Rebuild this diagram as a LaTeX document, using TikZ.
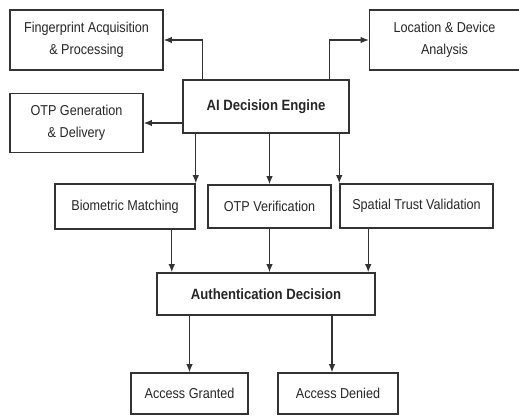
\documentclass[tikz,border=0pt]{standalone}
\usepackage{fontspec}
\setmainfont{Liberation Sans}[FakeStretch=0.88]
\usepackage{tikz}
\usetikzlibrary{arrows.meta}
\definecolor{edge}{HTML}{333333}
\definecolor{ink}{HTML}{262626}
\tikzset{
  block/.style={draw=edge, line width=1.1pt, rectangle, inner sep=0pt, align=center, text=ink,
    font=\fontsize{10.2}{15.5}\selectfont},
  hub/.style={block, font=\bfseries\fontsize{10.6}{12}\selectfont},
  arrow/.style={-{Latex[length=2mm,width=1.6mm]}, draw=edge, line width=0.8pt}
}

\begin{document}
\begin{tikzpicture}[x=0.025cm,y=-0.025cm]
  \useasboundingbox (0,0) rectangle (519,415);
  % top row
  \node[block, minimum width=3.825cm, minimum height=1.5cm] (finger) at (86.5,40) {Fingerprint Acquisition\\\& Processing};
  \node[block, minimum width=3.75cm, minimum height=1.5cm] (location) at (444.5,40) {Location \& Device\\Analysis};
  \node[hub, minimum width=4.15cm, minimum height=1.325cm] (engine) at (266,106.5) {AI Decision Engine};
  \node[block, minimum width=3.325cm, minimum height=1.475cm] (otpgen) at (76.5,123) {OTP Generation\\\& Delivery};

  % checks
  \node[block, minimum width=3.5cm, minimum height=1.125cm] (biometric) at (125,206.5) {Biometric Matching};
  \node[block, minimum width=3.075cm, minimum height=1.075cm] (otpcheck) at (269.5,206.5) {OTP Verification};
  \node[block, minimum width=3.825cm, minimum height=1.1cm] (spatial) at (416.5,206) {Spatial Trust Validation};

  % decision
  \node[hub, minimum width=5.45cm, minimum height=1.05cm] (auth) at (266,294) {Authentication Decision};
  \node[block, minimum width=2.925cm, minimum height=1.025cm] (granted) at (189.5,393.5) {Access Granted};
  \node[block, minimum width=3cm, minimum height=1.025cm] (denied) at (338,393.5) {Access Denied};

  \draw[arrow] ([xshift=0.5cm]engine.north west) |- (finger.east);
  \draw[arrow] ([xshift=-0.5cm]engine.north east) |- (location.west);
  \draw[arrow] (otpgen.east -| engine.west) -- (otpgen.east);
  \draw[arrow] (biometric.north east |- engine.south) -- (biometric.north east);
  \draw[arrow] (otpcheck.north |- engine.south) -- (otpcheck.north);
  \draw[arrow] (spatial.north west |- engine.south) -- (spatial.north west);

  \draw[arrow] ([xshift=-0.6cm]biometric.south east) -- ([xshift=-0.6cm]biometric.south east |- auth.north);
  \draw[arrow] (otpcheck.south) -- (otpcheck.south |- auth.north);
  \draw[arrow] ([xshift=0.725cm]spatial.south west) -- ([xshift=0.725cm]spatial.south west |- auth.north);

  \draw[arrow] (granted.north |- auth.south) -- (granted.north);
  \draw[arrow] ([xshift=-0.15cm]denied.north |- auth.south) -- ([xshift=-0.15cm]denied.north);
\end{tikzpicture}
\end{document}
